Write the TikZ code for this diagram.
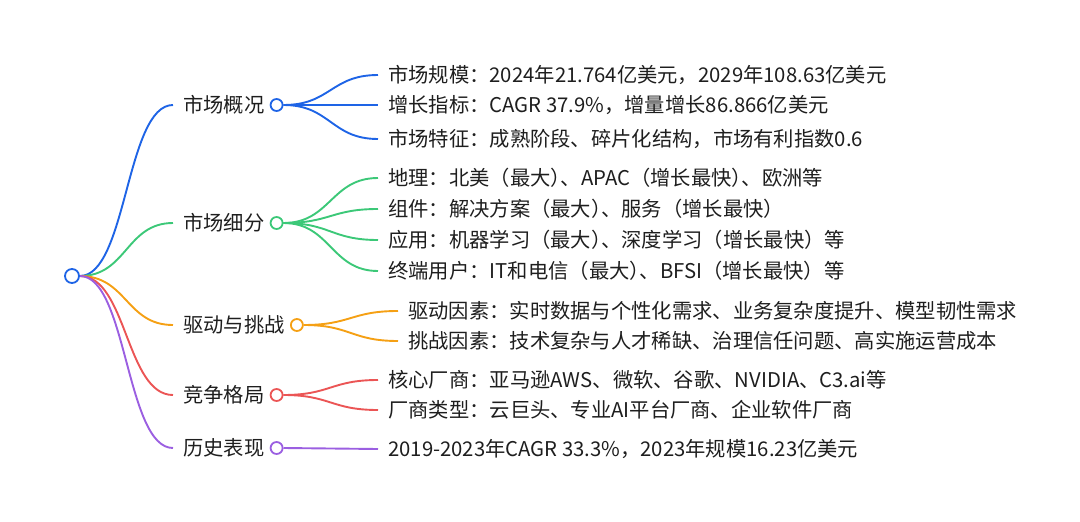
\documentclass[tikz,border=0pt]{standalone}
\usepackage{fontspec}
\setmainfont{Noto Sans CJK SC}
\pgfdeclarelayer{bg}
\pgfsetlayers{bg,main}
\definecolor{cblue}{RGB}{30,100,230}
\definecolor{cgreen}{RGB}{60,200,120}
\definecolor{corange}{RGB}{245,160,20}
\definecolor{cred}{RGB}{235,85,85}
\definecolor{cpurple}{RGB}{155,95,225}
\definecolor{ctext}{RGB}{30,30,30}
\newcommand{\rpc}{）\kern-0.5em}
\tikzset{
  lbl/.style={anchor=west,inner sep=0pt,text=ctext,font=\fontsize{20.3}{22}\selectfont,text height=15.5pt,text depth=1pt},
  dot/.style={circle,draw=#1,fill=white,line width=1.8pt,minimum size=12pt,inner sep=0pt},
  lnk/.style={draw=#1,line width=1.9pt},
}
\begin{document}
\begin{tikzpicture}[x=1pt,y=-1pt]
\useasboundingbox (0,0) rectangle (1080,522);
\node[dot=cblue,minimum size=14pt] (root) at (72,276) {};
% branches
\node[lbl] (b1) at (183,105) {市场概况};
\node[lbl] (b2) at (183,223) {市场细分};
\node[lbl] (b3) at (183,325) {驱动与挑战};
\node[lbl] (b4) at (183,395) {竞争格局};
\node[lbl] (b5) at (183,448) {历史表现};
% leaves
\node[lbl] (l11) at (388,75) {市场规模：2024年21.764亿美元，2029年108.63亿美元};
\node[lbl] (l12) at (388,105) {增长指标：CAGR 37.9\%，增量增长86.866亿美元};
\node[lbl] (l13) at (388,139) {市场特征：成熟阶段、碎片化结构，市场有利指数0.6};
\node[lbl] (l21) at (388,178) {地理：北美（最大\rpc、APAC（增长最快\rpc、欧洲等};
\node[lbl] (l22) at (388,209) {组件：解决方案（最大\rpc、服务（增长最快）};
\node[lbl] (l23) at (388,240) {应用：机器学习（最大\rpc、深度学习（增长最快）等};
\node[lbl] (l24) at (388,271) {终端用户：IT和电信（最大\rpc、BFSI（增长最快）等};
\node[lbl] (l31) at (408,311) {驱动因素：实时数据与个性化需求、业务复杂度提升、模型韧性需求};
\node[lbl] (l32) at (408,341) {挑战因素：技术复杂与人才稀缺、治理信任问题、高实施运营成本};
\node[lbl] (l41) at (388,380) {核心厂商：亚马逊AWS、微软、谷歌、NVIDIA、C3.ai等};
\node[lbl] (l42) at (388,410) {厂商类型：云巨头、专业AI平台厂商、企业软件厂商};
\node[lbl] (l51) at (388,449) {2019-2023年CAGR 33.3\%，2023年规模16.23亿美元};
% branch dots
\node[dot=cblue] (d1) at ([xshift=12pt]b1.east) {};
\node[dot=cgreen] (d2) at ([xshift=12pt]b2.east) {};
\node[dot=corange] (d3) at ([xshift=12pt]b3.east) {};
\node[dot=cred] (d4) at ([xshift=12pt]b4.east) {};
\node[dot=cpurple] (d5) at ([xshift=12pt]b5.east) {};
\begin{pgfonlayer}{bg}
\foreach \b/\c in {b1/cblue,b2/cgreen,b3/corange,b4/cred,b5/cpurple}{
  \path[lnk=\c] (root.east) .. controls +(47,0) and +(-47,0) .. ([xshift=-10pt]\b.west);
}
\foreach \d/\l/\c in {d1/l11/cblue,d1/l12/cblue,d1/l13/cblue,
  d2/l21/cgreen,d2/l22/cgreen,d2/l23/cgreen,d2/l24/cgreen,
  d3/l31/corange,d3/l32/corange,d4/l41/cred,d4/l42/cred,d5/l51/cpurple}{
  \path[lnk=\c] (\d.east) .. controls +(47,0) and +(-47,0) .. ([xshift=-10pt]\l.west);
}
\end{pgfonlayer}
\end{tikzpicture}
\end{document}
